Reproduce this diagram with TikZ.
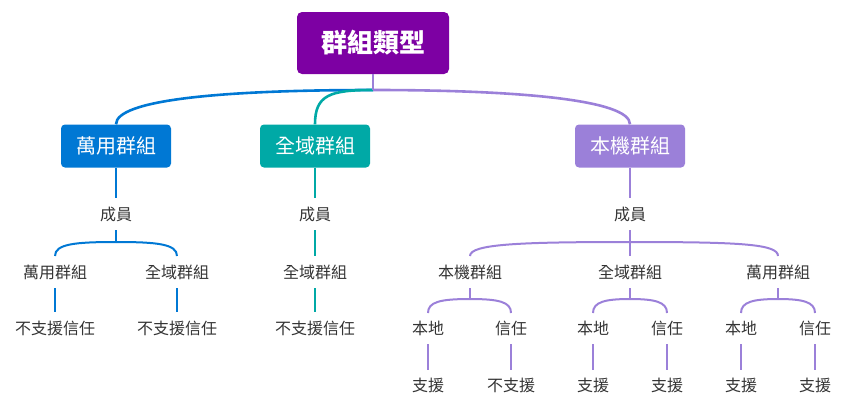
\documentclass[tikz,border=0pt]{standalone}
\usepackage{fontspec}
\newfontfamily\cjk{Noto Sans CJK TC}
\usetikzlibrary{calc}
\definecolor{rootc}{HTML}{7D00A3}
\definecolor{bluec}{HTML}{0078D4}
\definecolor{tealc}{HTML}{00A9A6}
\definecolor{lavc}{HTML}{9B80D9}
\definecolor{txt}{HTML}{333333}
\tikzset{
  lab/.style={font=\cjk\fontsize{16}{16}\selectfont, text=txt, inner sep=0pt},
  box/.style={rounded corners=4pt, minimum width=110pt, minimum height=43pt, inner sep=0pt, text=white, font=\cjk\fontsize{20}{20}\selectfont},
  rootbox/.style={rounded corners=5pt, minimum width=152pt, minimum height=62pt, inner sep=0pt, text=white, fill=rootc, font=\cjk\bfseries\fontsize{26}{26}\selectfont},
  thickline/.style={line width=2.6pt},
  thinline/.style={line width=2pt},
}
\begin{document}
\begin{tikzpicture}[x=1pt,y=-1pt]
\useasboundingbox (0,0) rectangle (858,415);
% root
\node[rootbox] (R) at (373,43) {群組類型};
\coordinate (J) at (373,90);
% level 1
\node[box, fill=bluec] (B1) at (116,146) {萬用群組};
\node[box, fill=tealc] (B2) at (315,146) {全域群組};
\node[box, fill=lavc] (B3) at (630,146) {本機群組};
% root connectors
\draw[thickline, bluec] (J) .. controls (220,90) and (116,100) .. (B1.north);
\draw[thickline, tealc] (J) .. controls (330,90) and (315,95) .. (B2.north);
\draw[thickline, lavc] (J) .. controls (520,90) and (630,100) .. (B3.north);
\draw[thickline, lavc] (R.south) -- (J);
% level 2
\node[lab] (m1) at (116,214) {成員};
\node[lab] (m2) at (315,214) {成員};
\node[lab] (m3) at (630,214) {成員};
\draw[thinline, bluec] (B1.south) -- ($(m1.center)+(0,-16)$);
\draw[thinline, tealc] (B2.south) -- ($(m2.center)+(0,-16)$);
\draw[thinline, lavc] (B3.south) -- ($(m3.center)+(0,-16)$);
% blue branch
\node[lab] (c11) at (55,272) {萬用群組};
\node[lab] (c12) at (177,272) {全域群組};
\node[lab] (d11) at (55,328) {不支援信任};
\node[lab] (d12) at (177,328) {不支援信任};
\coordinate (k1) at (116,242);
\draw[thinline, bluec] ($(m1.center)+(0,16)$) -- (k1);
\draw[thinline, bluec] (k1) .. controls (75,242) and (55,244) .. ($(c11.center)+(0,-16)$);
\draw[thinline, bluec] (k1) .. controls (157,242) and (177,244) .. ($(c12.center)+(0,-16)$);
\draw[thinline, bluec] ($(c11.center)+(0,16)$) -- ($(d11.center)+(0,-16)$);
\draw[thinline, bluec] ($(c12.center)+(0,16)$) -- ($(d12.center)+(0,-16)$);
% teal branch
\node[lab] (c21) at (315,272) {全域群組};
\node[lab] (d21) at (315,328) {不支援信任};
\draw[thinline, tealc] ($(m2.center)+(0,16)$) -- ($(c21.center)+(0,-16)$);
\draw[thinline, tealc] ($(c21.center)+(0,16)$) -- ($(d21.center)+(0,-16)$);
% lavender branch
\node[lab] (c31) at (470,272) {本機群組};
\node[lab] (c32) at (630,272) {全域群組};
\node[lab] (c33) at (778,272) {萬用群組};
\coordinate (k3) at (630,242);
\draw[thinline, lavc] ($(m3.center)+(0,16)$) -- ($(c32.center)+(0,-16)$);
\draw[thinline, lavc] (k3) .. controls (520,242) and (470,244) .. ($(c31.center)+(0,-16)$);
\draw[thinline, lavc] (k3) .. controls (740,242) and (778,244) .. ($(c33.center)+(0,-16)$);
% sub-branches
\foreach \p/\l/\r/\bl/\br in {c31/428/511/支援/不支援, c32/593/667/支援/支援, c33/741/815/支援/支援}{
  \coordinate (\p k) at ($(\p.center)+(0,27)$);
  \node[lab] (\p L) at (\l,328) {本地};
  \node[lab] (\p R) at (\r,328) {信任};
  \node[lab] (\p LL) at (\l,385) {\bl};
  \node[lab] (\p RR) at (\r,385) {\br};
  \draw[thinline, lavc] ($(\p.center)+(0,16)$) -- (\p k);
  \draw[thinline, lavc] (\p k) .. controls ($(\p L.center)+(12,-29)$) and ($(\p L.center)+(0,-26)$) .. ($(\p L.center)+(0,-15)$);
  \draw[thinline, lavc] (\p k) .. controls ($(\p R.center)+(-12,-29)$) and ($(\p R.center)+(0,-26)$) .. ($(\p R.center)+(0,-15)$);
  \draw[thinline, lavc] ($(\p L.center)+(0,16)$) -- ($(\p LL.center)+(0,-15)$);
  \draw[thinline, lavc] ($(\p R.center)+(0,16)$) -- ($(\p RR.center)+(0,-15)$);
}
\end{tikzpicture}
\end{document}
